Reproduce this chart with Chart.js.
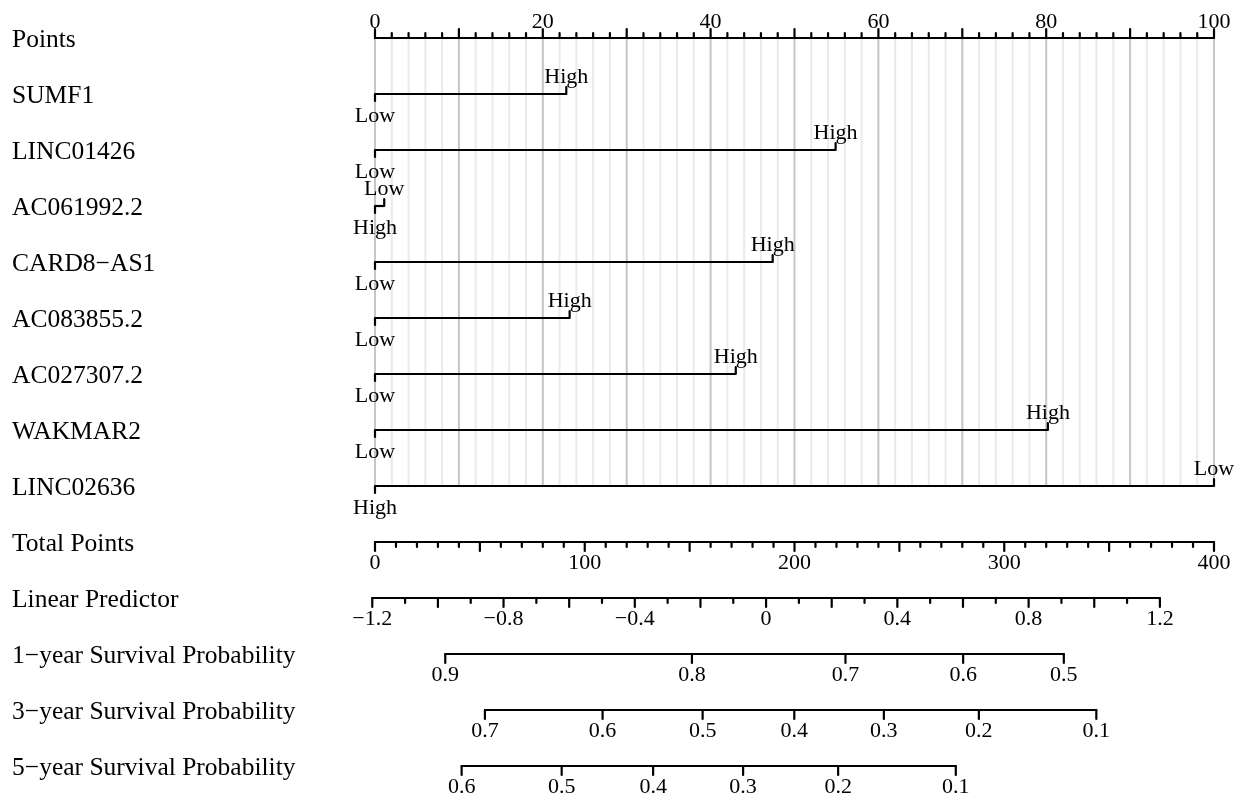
<!DOCTYPE html>
<html lang="en">
<head>
<meta charset="UTF-8">
<title>Nomogram</title>
<script src="https://cdn.jsdelivr.net/npm/chart.js"></script>
<style>
  body { margin: 0; background: #fff; }
  .quadro { width: 1242px; height: 799px; position: relative; }
</style>
</head>
<body>
<div class="quadro"><canvas id="nomograma"></canvas></div>
<script>
// rows from top to bottom
const linhas = ['Points', 'SUMF1', 'LINC01426', 'AC061992.2', 'CARD8\u2212AS1', 'AC083855.2',
  'AC027307.2', 'WAKMAR2', 'LINC02636', 'Total Points', 'Linear Predictor',
  '1\u2212year Survival Probability', '3\u2212year Survival Probability', '5\u2212year Survival Probability'];

// points for each variable level
const variaveis = ['SUMF1', 'LINC01426', 'AC061992.2', 'CARD8\u2212AS1', 'AC083855.2', 'AC027307.2', 'WAKMAR2', 'LINC02636'];
const pontosLow = [0, 0, 1.1, 0, 0, 0, 0, 100];
const pontosHigh = [22.8, 54.9, 0, 47.4, 23.2, 43.0, 80.2, 0];

// axes
const pontosMax = 100;
const totalMax = 400;
const lpIni = -1.2, lpFim = 1.2;
const lpTotalIni = -1.3, lpTotalFim = 374.2;   // total points at the ends of the linear predictor

// survival scales: tick labels and where they fall on total points
const sobrev1Labels = ['0.9', '0.8', '0.7', '0.6', '0.5'];
const sobrev1Total = [33.5, 151.1, 224.3, 280.4, 328.4];
const sobrev3Labels = ['0.7', '0.6', '0.5', '0.4', '0.3', '0.2', '0.1'];
const sobrev3Total = [52.4, 108.5, 156.2, 199.9, 242.6, 287.9, 343.9];
const sobrev5Labels = ['0.6', '0.5', '0.4', '0.3', '0.2', '0.1'];
const sobrev5Total = [41.3, 89.0, 132.6, 175.5, 220.8, 276.9];

const FONTE = '"Liberation Serif", "Times New Roman", serif';
const MAIOR = 9, MENOR = 5;

const totalParaPontos = t => t * pontosMax / totalMax;
const lpParaTotal = lp => lpTotalIni + (lp - lpIni) * (lpTotalFim - lpTotalIni) / (lpFim - lpIni);
const menos = s => s.replace('-', '\u2212');

function traco(ctx, x1, y1, x2, y2) {
  ctx.beginPath();
  ctx.moveTo(x1, y1);
  ctx.lineTo(x2, y2);
  ctx.stroke();
}

function texto(ctx, s, x, y, align) {
  ctx.textAlign = align || 'center';
  ctx.fillText(s, x, y);
}

const grade = {
  id: 'grade',
  beforeDatasetsDraw(chart) {
    const ctx = chart.ctx, sx = chart.scales.x, sy = chart.scales.y;
    const y0 = sy.getPixelForValue(0), y1 = sy.getPixelForValue(variaveis.length);
    ctx.save();
    ctx.lineWidth = 2;
    for (let v = 0; v <= pontosMax; v += 2) {
      ctx.strokeStyle = v % 10 === 0 ? '#c6c6c6' : '#eaeaea';
      const x = sx.getPixelForValue(v);
      traco(ctx, x, y0, x, y1);
    }
    ctx.restore();
  }
};

const eixos = {
  id: 'eixos',
  afterDatasetsDraw(chart) {
    const ctx = chart.ctx, sx = chart.scales.x, sy = chart.scales.y;
    const X = v => sx.getPixelForValue(v);
    const Y = r => sy.getPixelForValue(r);
    ctx.save();
    ctx.strokeStyle = '#000';
    ctx.fillStyle = '#000';
    ctx.lineWidth = 2.2;
    ctx.lineCap = 'round';
    ctx.textBaseline = 'alphabetic';

    // row names
    ctx.font = '25.5px ' + FONTE;
    linhas.forEach((nome, i) => texto(ctx, nome, 12, Y(i) + 9, 'left'));

    ctx.font = '22px ' + FONTE;

    // points axis, ticks upward
    let y = Y(0);
    traco(ctx, X(0), y, X(pontosMax), y);
    for (let v = 0; v <= pontosMax; v += 2) {
      const maior = v % 10 === 0;
      traco(ctx, X(v), y, X(v), y - (maior ? MAIOR : MENOR));
      if (v % 20 === 0) texto(ctx, String(v), X(v), y - 10);
    }

    // variable lines: end ticks and level labels
    variaveis.forEach((nome, i) => {
      const yy = Y(i + 1);
      const a = Math.min(pontosLow[i], pontosHigh[i]);
      const b = Math.max(pontosLow[i], pontosHigh[i]);
      const rotA = pontosLow[i] <= pontosHigh[i] ? 'Low' : 'High';
      const rotB = rotA === 'Low' ? 'High' : 'Low';
      traco(ctx, X(a), yy, X(a), yy + 7);
      traco(ctx, X(b), yy, X(b), yy - 7);
      texto(ctx, rotA, X(a), yy + 28);
      texto(ctx, rotB, X(b), yy - 11);
    });

    // total points, ticks downward
    y = Y(9);
    traco(ctx, X(0), y, X(pontosMax), y);
    for (let t = 0; t <= totalMax; t += 10) {
      const x = X(totalParaPontos(t));
      traco(ctx, x, y, x, y + (t % 50 === 0 ? MAIOR : MENOR));
      if (t % 100 === 0) texto(ctx, String(t), x, y + 27);
    }

    // linear predictor
    y = Y(10);
    const xl = lp => X(totalParaPontos(lpParaTotal(lp)));
    traco(ctx, xl(lpIni), y, xl(lpFim), y);
    for (let k = Math.round(lpIni * 10); k <= Math.round(lpFim * 10); k++) {
      const x = xl(k / 10);
      traco(ctx, x, y, x, y + (k % 2 === 0 ? MAIOR : MENOR));
      if (k % 4 === 0) texto(ctx, menos(String(k / 10)), x, y + 27);
    }

    // survival probabilities
    [[sobrev1Labels, sobrev1Total], [sobrev3Labels, sobrev3Total], [sobrev5Labels, sobrev5Total]]
      .forEach(([rotulos, totais], j) => {
        const yy = Y(11 + j);
        const xs = totais.map(t => X(totalParaPontos(t)));
        traco(ctx, Math.min(...xs), yy, Math.max(...xs), yy);
        xs.forEach((x, i) => {
          traco(ctx, x, yy, x, yy + MAIOR);
          texto(ctx, rotulos[i], x, yy + 27);
        });
      });

    ctx.restore();
  }
};

new Chart(document.getElementById('nomograma'), {
  type: 'scatter',
  data: {
    datasets: variaveis.map((nome, i) => ({
      label: nome,
      type: 'line',
      data: [{ x: pontosLow[i], y: i + 1 }, { x: pontosHigh[i], y: i + 1 }],
      borderColor: '#000',
      borderWidth: 2.2,
      pointRadius: 0,
      clip: false
    }))
  },
  options: {
    responsive: true,
    maintainAspectRatio: false,
    animation: false,
    events: [],
    layout: { padding: { left: 375, right: 28, top: 38, bottom: 33 } },
    scales: {
      x: { type: 'linear', min: 0, max: pontosMax, display: false },
      y: { type: 'linear', min: 0, max: linhas.length - 1, reverse: true, display: false }
    },
    plugins: { legend: { display: false }, tooltip: { enabled: false } }
  },
  plugins: [grade, eixos]
});
</script>
</body>
</html>
